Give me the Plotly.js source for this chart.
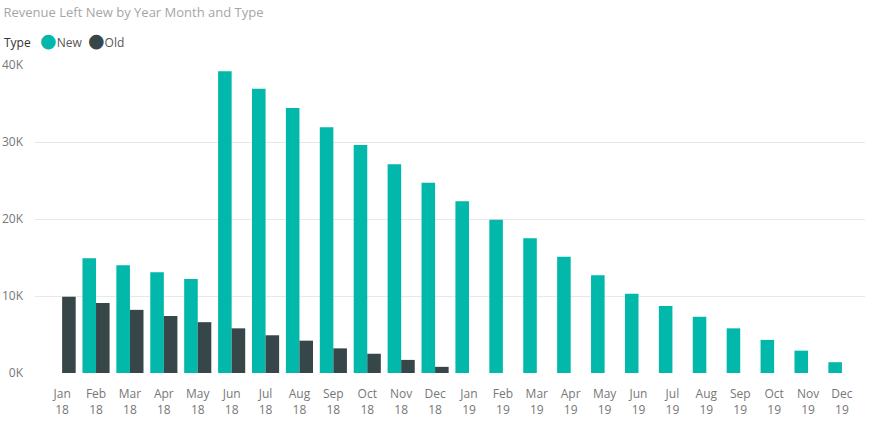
<!DOCTYPE html>
<html>
<head>
<meta charset="utf-8">
<script src="https://cdn.plot.ly/plotly-3.0.1.min.js"></script>
<style>
  html, body { margin: 0; padding: 0; background: #fff; }
  #chart { width: 869px; height: 428px; }
</style>
</head>
<body>
<div id="chart"></div>
<script>
// months shown on the x axis
const months = [
  "Jan<br>18", "Feb<br>18", "Mar<br>18", "Apr<br>18", "May<br>18", "Jun<br>18",
  "Jul<br>18", "Aug<br>18", "Sep<br>18", "Oct<br>18", "Nov<br>18", "Dec<br>18",
  "Jan<br>19", "Feb<br>19", "Mar<br>19", "Apr<br>19", "May<br>19", "Jun<br>19",
  "Jul<br>19", "Aug<br>19", "Sep<br>19", "Oct<br>19", "Nov<br>19", "Dec<br>19"
];

const newRevenue = [
  0, 14900, 14000, 13100, 12200, 39200, 36900, 34400, 31900, 29600, 27100, 24700,
  22300, 19900, 17500, 15100, 12700, 10300, 8700, 7300, 5800, 4300, 2900, 1400
];

const oldRevenue = [
  9900, 9100, 8200, 7400, 6600, 5800, 4900, 4200, 3200, 2500, 1700, 800,
  0, 0, 0, 0, 0, 0, 0, 0, 0, 0, 0, 0
];

const yTickVals = [0, 10000, 20000, 30000, 40000];
const yTickText = ["0K", "10K", "20K", "30K", "40K"];

const newColor = "#01B8AA";
const oldColor = "#374649";

var traceNew = {
  x: months,
  y: newRevenue,
  type: "bar",
  name: "New",
  marker: { color: newColor },
};

var traceOld = {
  x: months,
  y: oldRevenue,
  type: "bar",
  name: "Old",
  marker: { color: oldColor },
};

// Power BI style legend: "Type ● New ● Old", kept tight as one line of text
var legendText =
  "<span style='color:#333'>Type</span>   " +
  "<span style='color:" + newColor + ";font-size:19px;font-family:DejaVu Sans'>●</span>" +
  "<span style='color:#555'>New</span>  " +
  "<span style='color:" + oldColor + ";font-size:19px;font-family:DejaVu Sans'>●</span>" +
  "<span style='color:#555'>Old</span>";

var layout = {
  width: 869,
  height: 428,
  margin: { l: 35, r: 4, t: 65, b: 55 },
  paper_bgcolor: "#fff",
  plot_bgcolor: "#fff",
  font: { family: "Open Sans, sans-serif", color: "#777", size: 12 },
  title: {
    text: "Revenue Left New by Year Month and Type",
    font: { family: "Open Sans, sans-serif", size: 13, color: "#a6a6a6" },
    x: 0.004, xanchor: "left", xref: "container",
    y: 0.972, yanchor: "middle", yref: "container",
  },
  showlegend: false,
  annotations: [
    {
      text: legendText,
      xref: "paper", yref: "paper",
      x: -0.04, xanchor: "left",
      y: 1.082, yanchor: "middle",
      showarrow: false,
      font: { size: 12, color: "#555" },
    },
  ],
  barmode: "group",
  bargap: 0.2,
  bargroupgap: 0,
  xaxis: {
    type: "category",
    range: [-0.8, 23.68],
    showgrid: false,
    zeroline: false,
    showline: false,
    ticks: "",
    ticklabelstandoff: 12,
    tickfont: { size: 12, color: "#777" },
    fixedrange: true,
  },
  yaxis: {
    range: [0, 40000],
    tickvals: yTickVals,
    ticktext: yTickText,
    showgrid: true,
    gridcolor: "#e8e8e8",
    zeroline: false,
    showline: false,
    ticks: "",
    ticklabelstandoff: 11,
    tickfont: { size: 12, color: "#777" },
    fixedrange: true,
  },
};

Plotly.newPlot("chart", [traceNew, traceOld], layout, {
  displayModeBar: false,
  staticPlot: true,
});
</script>
</body>
</html>
